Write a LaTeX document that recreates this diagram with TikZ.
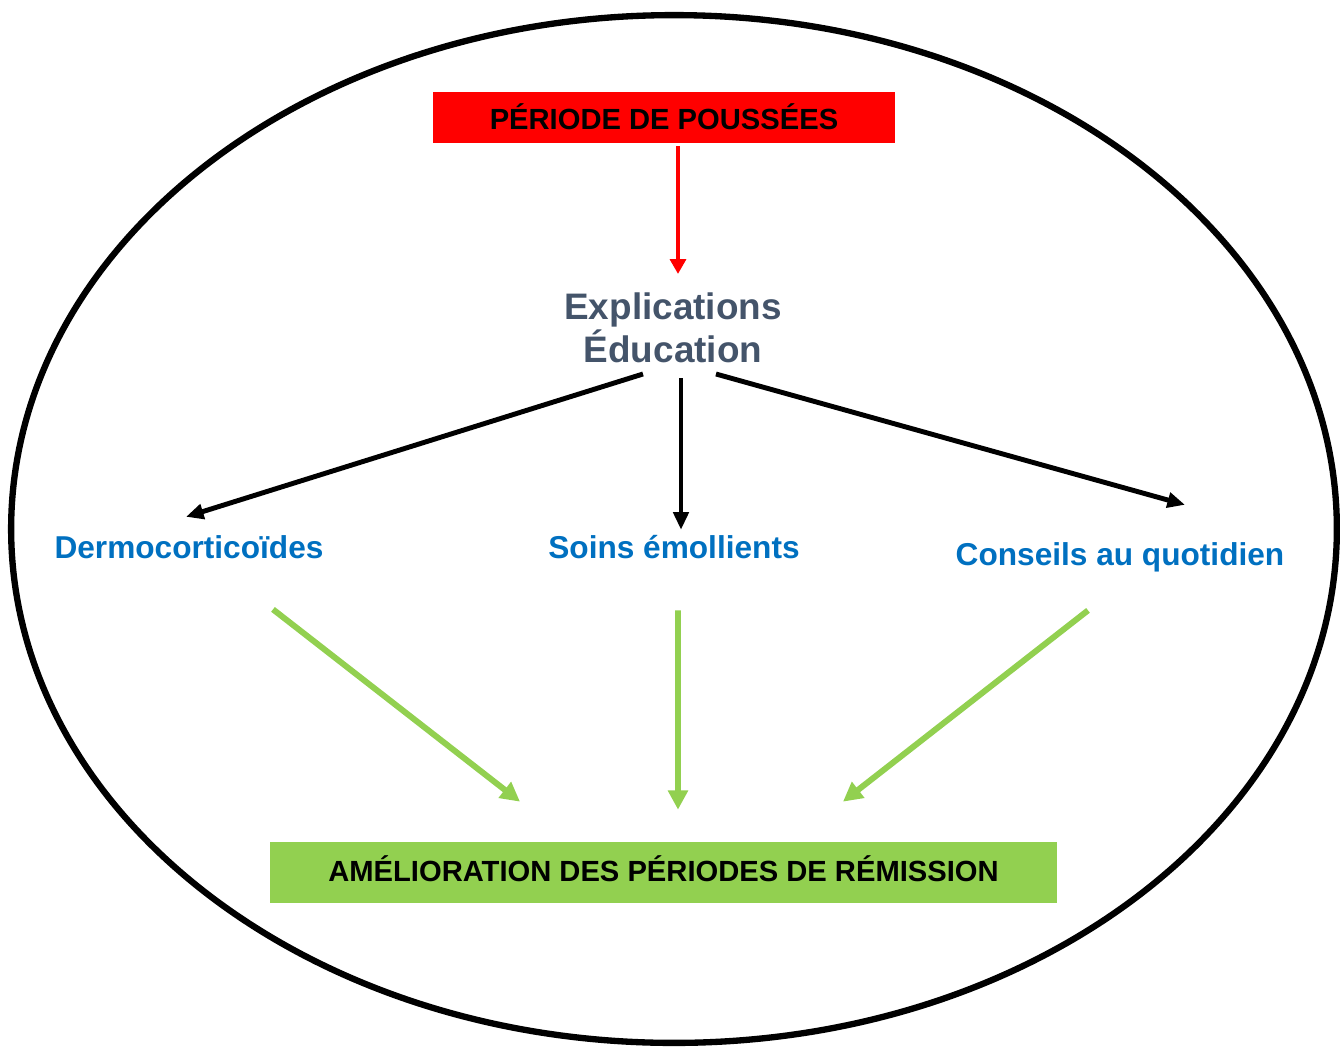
\documentclass[tikz,border=0pt]{standalone}
\usepackage{fontspec}
\setmainfont{Liberation Sans}
\usetikzlibrary{arrows.meta,positioning}

\definecolor{rougevif}{RGB}{255,0,0}
\definecolor{vertclair}{RGB}{146,208,80}
\definecolor{bleusoin}{RGB}{0,112,192}
\definecolor{grisbleu}{RGB}{68,84,106}

\tikzset{
	boite/.style={inner sep=0pt, text depth=0pt, font=\bfseries\fontsize{16.6}{20}\selectfont},
	soin/.style={anchor=base, inner sep=0pt, text=bleusoin, text height=13pt, text depth=4pt, font=\bfseries\fontsize{18}{22}\selectfont},
	fleche noire/.style={-{Triangle[length=10pt,width=8.5pt]}, line width=2.8pt},
	fleche verte/.style={-{Triangle[length=11pt,width=11pt]}, line width=3.4pt, color=vertclair},
	fleche rouge/.style={-{Triangle[length=8.5pt,width=9pt]}, line width=2.4pt, color=rougevif}
}

\begin{document}
\begin{tikzpicture}[x=0.02cm,y=-0.02cm]
	\useasboundingbox (0,0) rectangle (1340,1046);
	
	% le cadre
	\draw[line width=3.6pt] (674,529) ellipse [x radius=13.26cm, y radius=10.28cm];
	
	\node[boite, fill=rougevif, text height=14pt, minimum width=9.24cm, minimum height=1.02cm] (poussee) at (664,117.5) {PÉRIODE DE POUSSÉES};
	\node[inner sep=0pt, align=center, text=grisbleu, font=\bfseries\fontsize{21}{24.5}\selectfont] (expl) at (673,328) {Explications\\Éducation};
	
	\node[soin] (derm) at (189,558) {Dermocorticoïdes};
	\node[soin] (soins) at (674,558) {Soins émollients};
	\node[soin] (conseils) at (1120,565) {Conseils au quotidien};
	
	\node[boite, fill=vertclair, text height=10pt, minimum width=15.74cm, minimum height=1.22cm] (amelio) at (663.5,872.5) {AMÉLIORATION DES PÉRIODES DE RÉMISSION};
	
	% fleches
	\draw[fleche rouge] ([shift={(14,3)}]poussee.south) -- ([shift={(5,-54)}]expl.center);
	
	\draw[fleche noire] ([shift={(-30,46)}]expl.center) -- ([shift={(-3,-18)}]derm.north);
	\draw[fleche noire] ([shift={(8,50)}]expl.center) -- ([shift={(7,-5)}]soins.north);
	\draw[fleche noire] ([shift={(43,46)}]expl.center) -- ([shift={(65,-37)}]conseils.north);
	
	\draw[fleche verte] ([shift={(84,44)}]derm.south) -- ([shift={(-143.5,-40)}]amelio.north);
	\draw[fleche verte] ([shift={(4,45)}]soins.south) -- ([shift={(14.5,-32)}]amelio.north);
	\draw[fleche verte] ([shift={(-32,38)}]conseils.south) -- ([shift={(179.5,-40)}]amelio.north);
\end{tikzpicture}
\end{document}
